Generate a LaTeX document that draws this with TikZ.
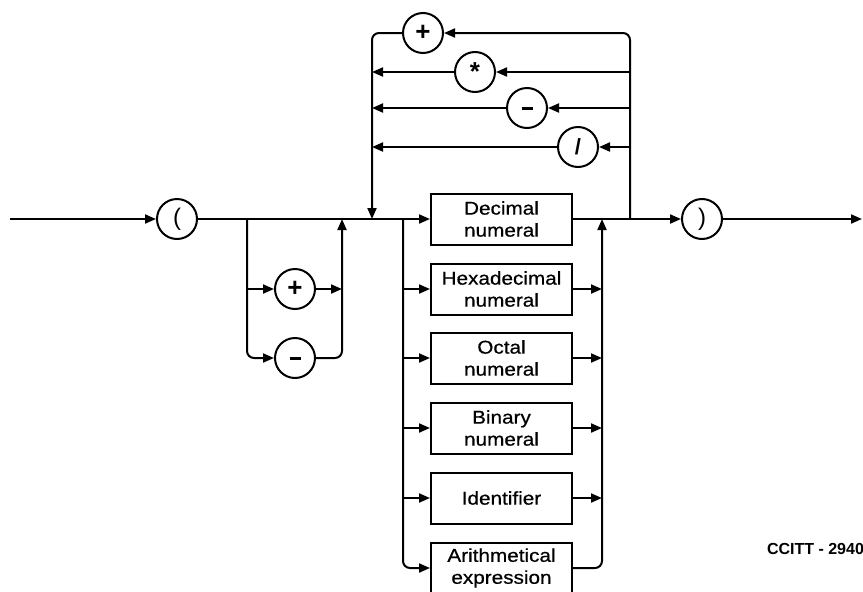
\documentclass[tikz,border=0pt]{standalone}
\usepackage{fontspec}
\setmainfont{Liberation Sans}
\newfontfamily\boxfont[FakeStretch=1.12,FakeBold=0.6]{Liberation Sans}
\usetikzlibrary{arrows.meta}
\begin{document}
\begin{tikzpicture}[x=1pt,y=-1pt,
  line width=2pt,
  arr/.style={-{Triangle[length=11pt,width=9pt]}},
  rc/.style={rounded corners=7pt},
  sym/.style={circle,draw,line width=2pt,minimum size=40pt,inner sep=0pt,font=\fontsize{26}{26}\selectfont\bfseries},
  paren/.style={sym,font=\fontsize{24}{24}\selectfont},
  cbox/.style={draw,line width=2pt,minimum width=141pt,minimum height=51pt,inner sep=0pt,align=center,font=\boxfont\fontsize{18.5}{22}\selectfont}]
\useasboundingbox (0,0) rectangle (863,592);
% main line points
\coordinate (start) at (10,219);
\node[paren] (lp) at (177,219) {(};
\coordinate (splitA) at (247,219);
\node[sym] (plus1) at (295,289) {+};
\node[sym] (minus1) at (295,358) {\rule{11pt}{3pt}};
\coordinate (joinA) at (342,219);
\coordinate (loopIn) at (372,219);
\coordinate (splitB) at (403,219);
\node[cbox] (dec) at (501.5,219) {Decimal\\numeral};
\node[cbox] (hex) at (501.5,289) {Hexadecimal\\numeral};
\node[cbox] (oct) at (501.5,358) {Octal\\numeral};
\node[cbox] (bin) at (501.5,428) {Binary\\numeral};
\node[cbox] (ident) at (501.5,498) {Identifier};
\node[cbox] (arith) at (501.5,568) {Arithmetical\\expression};
\coordinate (joinB) at (602,219);
\coordinate (loopOut) at (630,219);
\node[paren] (rp) at (702,219) {)};
\coordinate (end) at (862,219);
% operator loop
\node[sym] (oplus) at (423,33) {+};
\node[sym] (otimes) at (475,72) {\raisebox{-6pt}{*}};
\node[sym] (ominus) at (527,108) {\rule{11pt}{3pt}};
\node[sym,font=\fontsize{22}{22}\selectfont\bfseries] (odiv) at (578,147) {/};
% main line
\draw[arr] (start) -- (lp);
\draw[arr] (lp) -- (dec);
\draw[arr] (dec) -- (rp);
\draw[arr] (rp) -- (end);
% sign loop
\draw[arr] (splitA |- plus1) -- (plus1);
\draw[arr,rc] (splitA) |- (minus1);
\draw[arr] (plus1) -- (joinA |- plus1);
\draw[arr,rc] (minus1) -| (joinA);
% operator loop
\draw[arr,rc] (loopOut) |- (oplus);
\draw[arr,rc] (oplus) -| (loopIn);
\draw[arr] (loopOut |- otimes) -- (otimes);
\draw[arr] (otimes) -- (loopIn |- otimes);
\draw[arr] (loopOut |- ominus) -- (ominus);
\draw[arr] (ominus) -- (loopIn |- ominus);
\draw[arr] (loopOut |- odiv) -- (odiv);
\draw[arr] (odiv) -- (loopIn |- odiv);
% choice
\draw[arr] (splitB |- hex) -- (hex);
\draw[arr] (splitB |- oct) -- (oct);
\draw[arr] (splitB |- bin) -- (bin);
\draw[arr] (splitB |- ident) -- (ident);
\draw[arr,rc] (splitB) |- (arith);
\draw[arr] (hex) -- (joinB |- hex);
\draw[arr] (oct) -- (joinB |- oct);
\draw[arr] (bin) -- (joinB |- bin);
\draw[arr] (ident) -- (joinB |- ident);
\draw[arr,rc] (arith) -| (joinB);
% label
\node[anchor=base west,inner sep=0pt,font=\fontsize{16}{16}\selectfont\bfseries] (lbl) at (766,554) {CCITT - 2940};
\end{tikzpicture}
\end{document}
